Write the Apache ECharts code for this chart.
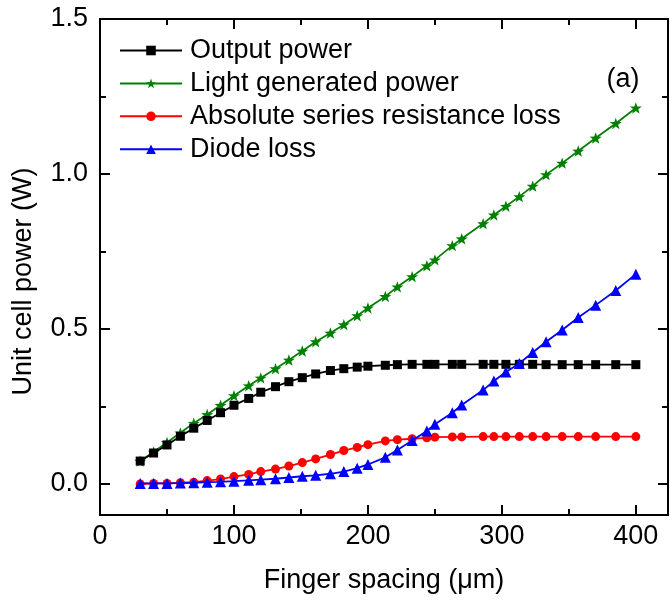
<!DOCTYPE html>
<html>
<head>
<meta charset="utf-8">
<script src="https://cdn.jsdelivr.net/npm/echarts@6/dist/echarts.min.js"></script>
<style>html,body{margin:0;padding:0;background:#fff}#c{width:670px;height:603px}</style>
</head>
<body>
<div id="c"></div>
<script>
const fingerSpacing = [30,40,50,60,70,80,90,100,111,120,131,141,151,161,172,182,192,200,213,222,233,244,250,263,270,286,294,303,313,323,333,345,357,370,385,400];
const outputPower = [0.074,0.100,0.126,0.154,0.180,0.205,0.230,0.254,0.276,0.296,0.314,0.330,0.343,0.355,0.366,0.372,0.377,0.380,0.383,0.385,0.386,0.386,0.386,0.386,0.386,0.386,0.386,0.386,0.386,0.386,0.385,0.385,0.385,0.385,0.385,0.385];
const lightPower = [0.074,0.103,0.134,0.165,0.196,0.224,0.254,0.285,0.317,0.342,0.372,0.400,0.429,0.459,0.487,0.514,0.543,0.568,0.605,0.636,0.669,0.704,0.723,0.769,0.791,0.840,0.868,0.896,0.927,0.961,0.998,1.035,1.074,1.116,1.163,1.213];
const seriesLoss = [0.000,0.002,0.002,0.004,0.006,0.011,0.016,0.024,0.031,0.040,0.048,0.058,0.069,0.081,0.095,0.108,0.118,0.127,0.139,0.143,0.146,0.149,0.151,0.152,0.152,0.153,0.153,0.153,0.153,0.153,0.153,0.153,0.153,0.153,0.153,0.153];
const diodeLoss = [0.002,0.002,0.002,0.003,0.004,0.006,0.007,0.009,0.012,0.014,0.017,0.021,0.025,0.028,0.033,0.040,0.051,0.063,0.086,0.110,0.140,0.171,0.193,0.230,0.255,0.303,0.332,0.361,0.389,0.424,0.459,0.497,0.537,0.577,0.624,0.677];
const seriesNames = ['Output power','Light generated power','Absolute series resistance loss','Diode loss'];
const xTicks = [0,100,200,300,400];
const xMinorTicks = [50,150,250,350];
const yTicks = [0,0.5,1.0,1.5];
const yMinorTicks = [0.25,0.75,1.25];

const FONT = "'Liberation Sans', Arial, sans-serif";
const X_MIN = 0, X_MAX = 424, Y_MIN = -0.1, Y_MAX = 1.5;
const STAR = 'path://M50,0 L61.75,33.8 L97.55,34.55 L69,56.2 L79.4,90.45 L50,70 L20.6,90.45 L31,56.2 L2.45,34.55 L38.25,33.8 Z';

function pairs(vals){ return fingerSpacing.map((x,i)=>[x, vals[i]]); }

function xAx(pos, ticks, len, showLine, showLabel, extra){
  return Object.assign({
    type:'value', position:pos, min:X_MIN, max:X_MAX, interval:100,
    axisLine:{show:showLine, onZero:false, lineStyle:{color:'#000', width:2}},
    axisTick:{show:true, inside:true, length:len, customValues:ticks, lineStyle:{color:'#000', width:2}},
    axisLabel:{show:showLabel, customValues:ticks, color:'#000', fontSize:27, fontFamily:FONT, margin:8},
    splitLine:{show:false}
  }, extra||{});
}
function yAx(pos, ticks, len, showLine, showLabel, extra){
  return Object.assign({
    type:'value', position:pos, min:Y_MIN, max:Y_MAX,
    axisLine:{show:showLine, onZero:false, lineStyle:{color:'#000', width:2}},
    axisTick:{show:true, inside:true, length:len, customValues:ticks, lineStyle:{color:'#000', width:2}},
    axisLabel:{show:showLabel, customValues:ticks, color:'#000', fontSize:27, fontFamily:FONT, margin:12,
      formatter:v=>Number(v).toFixed(1)},
    splitLine:{show:false}
  }, extra||{});
}

const chart = echarts.init(document.getElementById('c'), null, {renderer:'canvas'});
chart.setOption({
  backgroundColor:'#fff',
  animation:false,
  grid:{left:100, right:2, top:19, bottom:88, containLabel:false, outerBoundsMode:'none'},
  xAxis:[
    xAx('bottom', xTicks, 10, true, true, {
      name:'Finger spacing (\u03bcm)', nameLocation:'middle', nameGap:52,
      nameTextStyle:{color:'#000', fontSize:27, fontFamily:FONT}
    }),
    xAx('bottom', xMinorTicks, 6, false, false),
    xAx('top', xTicks, 10, true, false),
    xAx('top', xMinorTicks, 6, false, false)
  ],
  yAxis:[
    yAx('left', yTicks, 10, true, true),
    yAx('left', yMinorTicks, 6, false, false),
    yAx('right', yTicks, 10, true, false),
    yAx('right', yMinorTicks, 6, false, false)
  ],
  legend:{
    orient:'vertical', left:119, top:37, padding:0, itemWidth:62, itemHeight:12, itemGap:5.9,
    data:seriesNames,
    textStyle:{color:'#000', fontSize:27, fontFamily:FONT, lineHeight:27, padding:[0,0,0,3]}
  },
  graphic:[{
    type:'text', x:623, y:80,
    style:{text:'(a)', fill:'#000', font:'27px ' + FONT, fontSize:27, fontFamily:FONT,
      align:'center', verticalAlign:'middle', textAlign:'center', textVerticalAlign:'middle'}
  },{
    type:'text', x:24, y:281.5, rotation:Math.PI/2,
    style:{text:'Unit cell power (W)', fill:'#000', font:'27px ' + FONT, fontSize:27, fontFamily:FONT,
      align:'center', verticalAlign:'middle', textAlign:'center', textVerticalAlign:'middle'}
  }],
  series:[
    {name:seriesNames[0], type:'line', data:pairs(outputPower), symbol:'rect', symbolSize:9,
     itemStyle:{color:'#000'}, lineStyle:{color:'#000', width:1.8}, z:5},
    {name:seriesNames[1], type:'line', data:pairs(lightPower), symbol:STAR, symbolSize:12, symbolKeepAspect:true,
     itemStyle:{color:'#008000'}, lineStyle:{color:'#008000', width:1.8}, z:4},
    {name:seriesNames[2], type:'line', data:pairs(seriesLoss), symbol:'circle', symbolSize:9,
     itemStyle:{color:'#ff0000'}, lineStyle:{color:'#ff0000', width:1.8}, z:3},
    {name:seriesNames[3], type:'line', data:pairs(diodeLoss), symbol:'triangle', symbolSize:11,
     itemStyle:{color:'#0000ff'}, lineStyle:{color:'#0000ff', width:1.8}, z:6}
  ]
});
</script>
</body>
</html>
